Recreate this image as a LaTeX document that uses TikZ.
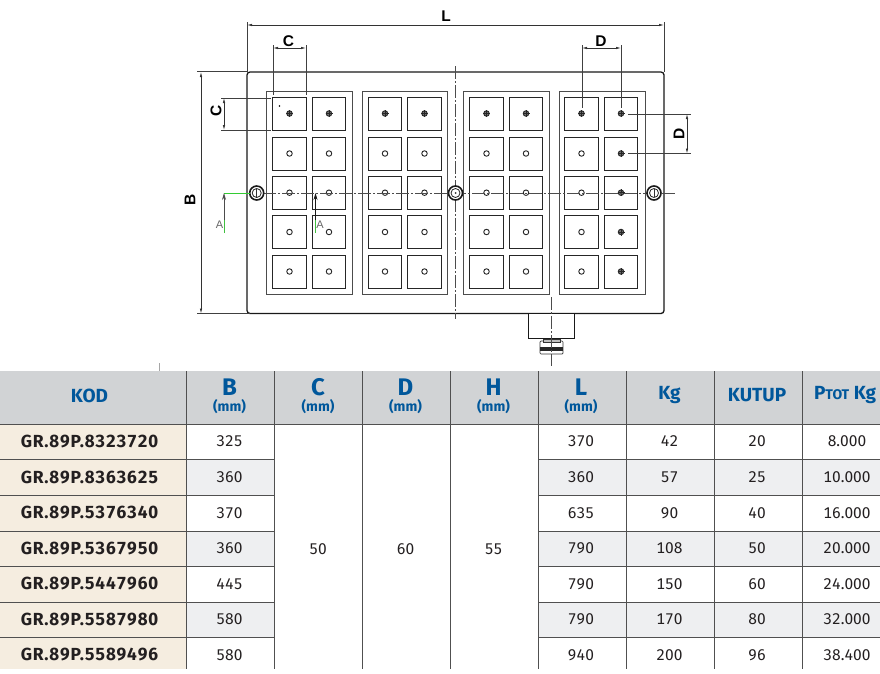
\documentclass[tikz,border=0pt]{standalone}
\usepackage{fontspec}
\setmainfont[Numbers={Lining,Tabular}]{Fira Sans}
\newfontfamily\codefont[Numbers={Lining,Tabular},LetterSpace=4.5]{Fira Sans}
\newfontfamily\dimfont{Liberation Sans}
\usetikzlibrary{arrows}
\usetikzlibrary{arrows.meta}
\usetikzlibrary{positioning}
\definecolor{headgray}{HTML}{D1D3D5}
\definecolor{headblue}{HTML}{00579B}
\definecolor{codebeige}{HTML}{F5EDE0}
\definecolor{rowgray}{HTML}{EEEFF1}
\definecolor{inkdark}{HTML}{231F20}
\definecolor{rulegray}{HTML}{505050}
\tikzset{outline/.style = {draw = black!90, line width = 1.3pt}}
\tikzset{panelbox/.style = {draw = black!70, line width = 1pt}}
\tikzset{polebox/.style = {draw = black!85, line width = 1pt, minimum width = 33.5, minimum height = 33, inner sep = 0, rectangle}}
\tikzset{holeopen/.style = {draw = black!85, fill = white, line width = 0.9pt, circle, inner sep = 0, minimum size = 5.5}}
\tikzset{holefull/.style = {draw = black!85, fill = black!55, line width = 0.9pt, circle, inner sep = 0, minimum size = 5.5}}
\tikzset{screwout/.style = {draw = black!90, fill = white, line width = 1.6pt, circle, inner sep = 0, minimum size = 14}}
\tikzset{screwin/.style = {draw = black!85, fill = white, line width = 0.8pt, circle, inner sep = 0, minimum size = 9}}
\tikzset{centerline/.style = {draw = black!70, line width = 1pt, dash pattern = on 13pt off 2pt on 2pt off 2pt}}
\tikzset{extline/.style = {draw = black!75, line width = 0.9pt}}
\tikzset{dimline/.style = {draw = black!80, line width = 0.7pt, {Latex[length = 5pt, width = 2.5pt]}-{Latex[length = 5pt, width = 2.5pt]}}}
\tikzset{cutarrow/.style = {line width = 0.7pt, -{Stealth[length = 7pt, width = 4pt]}}}
\tikzset{dimlabel/.style = {font = \dimfont\bfseries\fontsize{15.5}{15.5}\selectfont, inner sep = 0}}
\tikzset{cutlabel/.style = {font = \dimfont\fontsize{11}{11}\selectfont, text = black!60, inner sep = 0}}
\tikzset{cellrule/.style = {draw = rulegray, line width = 1pt}}
\tikzset{codecell/.style = {font = \codefont\bfseries\fontsize{17.5}{17.5}\selectfont, text = inkdark, inner sep = 0}}
\tikzset{valcell/.style = {font = \fontsize{15.5}{15.5}\selectfont, text = inkdark, inner sep = 0}}
\tikzset{headcell/.style = {font = \bfseries\fontsize{19}{19}\selectfont, text = headblue, inner sep = 0}}
\tikzset{headbig/.style = {font = \bfseries\fontsize{24}{24}\selectfont, text = headblue, inner sep = 0}}
\tikzset{headunit/.style = {font = \bfseries\fontsize{14}{14}\selectfont, text = headblue, inner sep = 0}}
\begin{document}
\begin{tikzpicture}[x = 1pt, y = -1pt]
      \useasboundingbox (0, 0) rectangle (880, 673);
      % plate
      \draw [outline, rounded corners = 3] (247, 72) rectangle (664, 313.5);
      \foreach \xa/\xb in {266.7/352, 362/447, 463/549, 559/645}
        \draw [panelbox] (\xa, 91) rectangle (\xb, 294);
      \coordinate (axis w) at (225, 193);
      \coordinate (axis e) at (675, 193);
      \coordinate (axis n) at (455.5, 66);
      \coordinate (axis s) at (455.5, 319);
      \coordinate (plug n) at (551.5, 297);
      \coordinate (plug s) at (551.5, 366);
      % poles
      \foreach \x [count = \c] in {289.5, 329, 385, 424.5, 486.5, 526, 581.5, 621}
        \foreach \y [count = \r] in {113.5, 153.5, 192.7, 232, 271.5} {
          \node [polebox] (pole\c\r) at (\x, \y) {};
          \pgfmathtruncatemacro{\full}{(\r == 1 || \c == 8) ? 1 : 0}
          \ifnum\full=1
            \node [holefull] (hole\c\r) at (\x, \y) {};
            \draw [line width = 0.6pt, black!85] (\x - 3.5, \y) -- (\x + 3.5, \y) (\x, \y - 3.5) -- (\x, \y + 3.5);
          \else
            \node [holeopen] (hole\c\r) at (\x, \y) {};
          \fi
        }
      \draw [centerline] (axis n) -- (axis s);
      \draw [centerline] (axis w) -- (axis e);
      \foreach \x/\name in {256.7/a, 455.5/b, 654/c} {
        \node [screwout] (screw\name) at (\x, 193) {};
        \node [screwin] at (screw\name) {};
      }
      \fill [black!80] (screwb) circle (1);
      \draw [line width = 0.7pt, black!80] (screwa.center) ++(0, -4) -- ++(0, 8);
      \draw [line width = 0.7pt, black!80] (screwc.center) ++(0, -4) -- ++(0, 8);
      \fill [black] (279.5, 106) circle (0.9);
      % plug
      \node [draw = black!90, line width = 1pt, fill = white, inner sep = 0, minimum width = 45.5, minimum height = 25] (plug) at (551.5, 326) {};
      \node [draw = black!80, line width = 0.7pt, fill = white, inner sep = 0, minimum width = 23, minimum height = 13, rounded corners = 1] (gland) at (551.5, 347.5) {};
      \node [draw = black!80, line width = 0.7pt, fill = black!25, inner sep = 0, minimum width = 17, minimum height = 3] (neck) at (551.5, 340.5) {};
      \fill [black!85] (540, 346.5) rectangle (563, 350.5);
      \draw [centerline] (plug n) -- (plug s);
      % dimensions
      \coordinate (L w) at (247, 25);
      \coordinate (L e) at (664, 25);
      \draw [extline] (247, 22) -- (247, 72);
      \draw [extline] (664, 22) -- (664, 72);
      \draw [dimline] (L w) -- (L e);
      \node [dimlabel] (L label) at (446, 16) {L};
      \coordinate (Ct w) at (273, 48);
      \coordinate (Ct e) at (306, 48);
      \draw [extline] (273, 45) -- (273, 95);
      \draw [extline] (306, 45) -- (306, 95);
      \draw [dimline] (Ct w) -- (Ct e);
      \node [dimlabel] (Ct label) at (288.5, 41) {C};
      \coordinate (Cl n) at (224, 98);
      \coordinate (Cl s) at (224, 130);
      \draw [extline] (221, 98) -- (271, 98);
      \draw [extline] (221, 130) -- (271, 130);
      \draw [dimline] (Cl n) -- (Cl s);
      \node [dimlabel, rotate = 90] (Cl label) at (216, 111) {C};
      \coordinate (B n) at (201, 72);
      \coordinate (B s) at (201, 313.5);
      \draw [extline] (197, 71.7) -- (247, 71.7);
      \draw [extline] (197, 313.5) -- (250, 313.5);
      \draw [dimline] (B n) -- (B s);
      \node [dimlabel, rotate = 90] (B label) at (190, 200) {B};
      \coordinate (Dt w) at (582, 48);
      \coordinate (Dt e) at (621, 48);
      \draw [extline] (582, 45) -- (582, 108);
      \draw [extline] (621, 45) -- (621, 108);
      \draw [dimline] (Dt w) -- (Dt e);
      \node [dimlabel] (Dt label) at (601, 41) {D};
      \coordinate (Dr n) at (687, 114);
      \coordinate (Dr s) at (687, 153.5);
      \draw [extline] (628, 114) -- (691, 114);
      \draw [extline] (628, 153.5) -- (691, 153.5);
      \draw [dimline] (Dr n) -- (Dr s);
      \node [dimlabel, rotate = 90] (Dr label) at (679, 134) {D};
      % section arrows
      \coordinate (Aa tail) at (224, 233);
      \coordinate (Aa head) at (224, 193);
      \coordinate (Ab tail) at (315.5, 233);
      \coordinate (Ab head) at (315.5, 193);
      \draw [green!50!gray, line width = 0.7pt] (Aa tail) -- (224, 220);
      \draw [green!60!gray, line width = 0.7pt] (Aa head) -- (250, 193);
      \draw [cutarrow, black!70] (224, 220) -- (Aa head);
      \draw [green!50!gray, line width = 0.7pt] (Ab tail) -- (315.5, 220);
      \draw [cutarrow, black!90] (315.5, 220) -- (Ab head);
      \node [cutlabel] (Aa label) at (219.5, 225) {A};
      \node [cutlabel] (Ab label) at (320, 225) {A};
      \draw [black!35, line width = 0.4pt] (159, 363) -- (159, 371);
      % table
      \fill [headgray] (0, 371) rectangle (880, 424.5);
      \fill [codebeige] (0, 424.5) rectangle (186, 669);
      \foreach \ya/\yb in {459.5/495, 531/566, 602/637} {
        \fill [rowgray] (186, \ya) rectangle (274, \yb);
        \fill [rowgray] (538, \ya) rectangle (880, \yb);
      }
      \draw [cellrule] (0, 424.5) -- (880, 424.5);
      \foreach \y in {459.5, 495, 531, 566, 602, 637} {
        \draw [cellrule] (0, \y) -- (274, \y);
        \draw [cellrule] (538, \y) -- (880, \y);
      }
      \foreach \x in {186, 274, 362, 450, 538, 626, 714, 802}
        \draw [cellrule] (\x, 371) -- (\x, 669);
      \node [headcell] (head kod) at (89.5, 395.5) {KOD};
      \foreach \x/\name in {229.5/B, 318/C, 405.5/D, 493.5/H, 581/L} {
        \node [headbig] (head\name) at (\x, 387.5) {\name};
        \node [headunit] (unit\name) at (\x, 407) {(mm)};
      }
      \node [headcell] (head kg) at (669.5, 395.5) {Kg};
      \node [headcell] (head kutup) at (757, 395.5) {KUTUP};
      \node [headcell] (head ptot) at (845, 395.5) {P{\fontsize{14}{14}\selectfont TOT} Kg};
      \foreach \code/\bval/\lval/\kgval/\kutup/\ptot/\y [count = \r] in {
          8323720/325/370/42/20/8.000/441.5,
          8363625/360/360/57/25/10.000/477.5,
          5376340/370/635/90/40/16.000/513,
          5367950/360/790/108/50/20.000/548.5,
          5447960/445/790/150/60/24.000/584,
          5587980/580/790/170/80/32.000/619.5,
          5589496/580/940/200/96/38.400/655} {
        \node [codecell] (code\r) at (89.5, \y) {GR.89P.\code};
        \node [valcell] (b\r) at (229.5, \y) {\bval};
        \node [valcell] (l\r) at (581, \y) {\lval};
        \node [valcell] (kg\r) at (669.5, \y) {\kgval};
        \node [valcell] (kutup\r) at (757, \y) {\kutup};
        \node [valcell] (ptot\r) at (847, \y) {\ptot};
      }
      \node [valcell] (c all) at (318, 549) {50};
      \node [valcell] (d all) at (405.5, 549) {60};
      \node [valcell] (h all) at (493.5, 549) {55};
    \end{tikzpicture}
\end{document}
